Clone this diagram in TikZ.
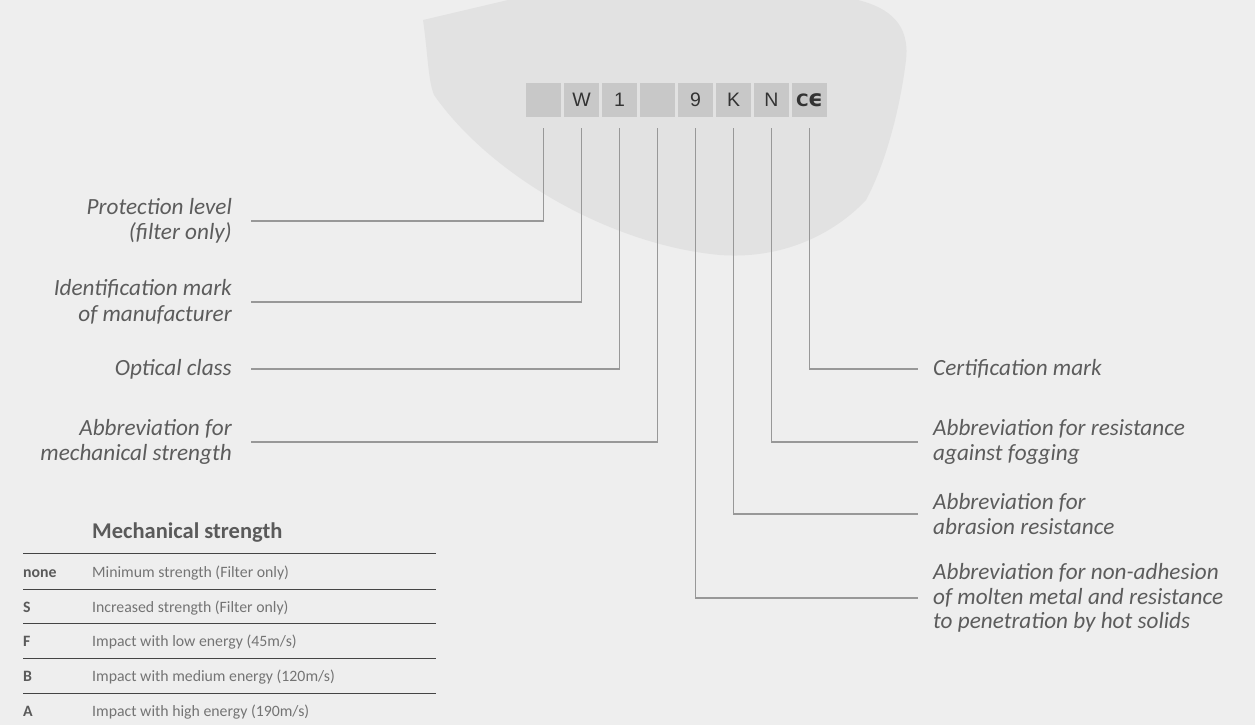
\documentclass[tikz,border=0pt]{standalone}
\usepackage{fontspec}
\setmainfont{Carlito}
\newfontfamily\boxfont{Liberation Sans}
\newfontfamily\markfont{DejaVu Sans}
\usetikzlibrary{positioning,calc}
\definecolor{bgGray}{HTML}{EEEEEE}
\definecolor{lensGray}{HTML}{E2E2E2}
\definecolor{boxGray}{HTML}{C8C8C8}
\definecolor{leaderGray}{HTML}{989898}
\definecolor{labelGray}{HTML}{5C5C5C}
\definecolor{keyGray}{HTML}{5A5A5A}
\definecolor{descGray}{HTML}{747474}
\definecolor{ruleGray}{HTML}{444444}

\begin{document}
\begin{tikzpicture}[x=1pt,y=-1pt]
	%defines
	\tikzstyle{markBox} = [rectangle, fill=boxGray, minimum width=35pt, minimum height=34pt, inner sep=0pt, outer sep=0pt, text=black!80, font=\boxfont\fontsize{19.5}{19.5}\selectfont]
	\tikzstyle{leftLabel} = [anchor=east, align=right, inner xsep=19pt, inner ysep=0pt, text=labelGray, font=\itshape\fontsize{23.2}{25.5}\selectfont]
	\tikzstyle{rightLabel} = [anchor=west, align=left, inner xsep=15pt, inner ysep=0pt, text=labelGray, font=\itshape\fontsize{23.2}{24.5}\selectfont]
	\tikzstyle{keyCell} = [anchor=base west, inner sep=0pt, text=keyGray, font=\bfseries\fontsize{15.8}{16}\selectfont]
	\tikzstyle{descCell} = [anchor=base west, inner sep=0pt, text=descGray, font=\fontsize{15.8}{16}\selectfont]
	\tikzstyle{leader} = [draw=leaderGray, line width=1.1pt]
	\tikzstyle{tableRule} = [draw=ruleGray, line width=1pt]
	%page and lens
	\useasboundingbox (0,0) rectangle (1255,725);
	\fill[bgGray] (0,0) rectangle (1255,725);
	\fill[lensGray] (508,0) -- (423,20) .. controls (428,55) and (428,80) .. (434,95)
		.. controls (490,175) and (610,245) .. (720,255)
		.. controls (790,260) and (840,228) .. (866,200)
		.. controls (885,165) and (900,110) .. (906,60)
		.. controls (910,25) and (890,8) .. (858,0) -- cycle;
	%marking
	\node (boxProt) [markBox] at (543.5,100) {};
	\node (boxMaker) [markBox, right=3pt of boxProt] {W};
	\node (boxOptic) [markBox, right=3pt of boxMaker] {1};
	\node (boxMech) [markBox, right=3pt of boxOptic] {};
	\node (boxMolten) [markBox, right=3pt of boxMech] {9};
	\node (boxAbrasion) [markBox, right=3pt of boxMolten] {K};
	\node (boxFog) [markBox, right=3pt of boxAbrasion] {N};
	\node (boxCE) [markBox, right=3pt of boxFog] {\markfont\bfseries\fontsize{17}{17}\selectfont C\kern-0.5pt\fontsize{23}{23}\selectfont ϵ};
	%labels
	\node (protLevel) [leftLabel] at (251,221) {Protection level\\(filter only)};
	\node (makerMark) [leftLabel] at (251,302) {Identification mark\\of manufacturer};
	\node (opticClass) [leftLabel] at (251,369) {Optical class};
	\node (mechStrength) [leftLabel] at (251,442) {Abbreviation for\\mechanical strength};
	\node (certMark) [rightLabel] at (918,369) {Certification mark};
	\node (fogging) [rightLabel] at (918,442) {Abbreviation for resistance\\against fogging};
	\node (abrasion) [rightLabel] at (918,514) {Abbreviation for\\abrasion resistance};
	\node (molten) [rightLabel] at (918,598) {Abbreviation for non-adhesion\\of molten metal and resistance\\to penetration by hot solids};
	\draw [leader] ([yshift=-11pt]boxProt.south) |- (protLevel.east);
	\draw [leader] ([yshift=-11pt]boxMaker.south) |- (makerMark.east);
	\draw [leader] ([yshift=-11pt]boxOptic.south) |- (opticClass.east);
	\draw [leader] ([yshift=-11pt]boxMech.south) |- (mechStrength.east);
	\draw [leader] ([yshift=-11pt]boxCE.south) |- (certMark.west);
	\draw [leader] ([yshift=-11pt]boxFog.south) |- (fogging.west);
	\draw [leader] ([yshift=-11pt]boxAbrasion.south) |- (abrasion.west);
	\draw [leader] ([yshift=-11pt]boxMolten.south) |- (molten.west);
	%table
	\node (tableTitle) [anchor=base west, inner sep=0pt, text=keyGray, font=\bfseries\fontsize{22.5}{22.5}\selectfont] at (92,538) {Mechanical strength};
	\draw [tableRule] (23,553) -- (436,553);
	\node (keyNone) [keyCell] at (23,577) {none};
	\node (descNone) [descCell] at (92,577) {Minimum strength (Filter only)};
	\draw [tableRule] (23,589) -- (436,589);
	\node (keyS) [keyCell] at (23,612) {S};
	\node (descS) [descCell] at (92,612) {Increased strength (Filter only)};
	\draw [tableRule] (23,623) -- (436,623);
	\node (keyF) [keyCell] at (23,646.5) {F};
	\node (descF) [descCell] at (92,646.5) {Impact with low energy (45m/s)};
	\draw [tableRule] (23,658) -- (436,658);
	\node (keyB) [keyCell] at (23,681.5) {B};
	\node (descB) [descCell] at (92,681.5) {Impact with medium energy (120m/s)};
	\draw [tableRule] (23,693) -- (436,693);
	\node (keyA) [keyCell] at (23,716) {A};
	\node (descA) [descCell] at (92,716) {Impact with high energy (190m/s)};
\end{tikzpicture}
\end{document}
